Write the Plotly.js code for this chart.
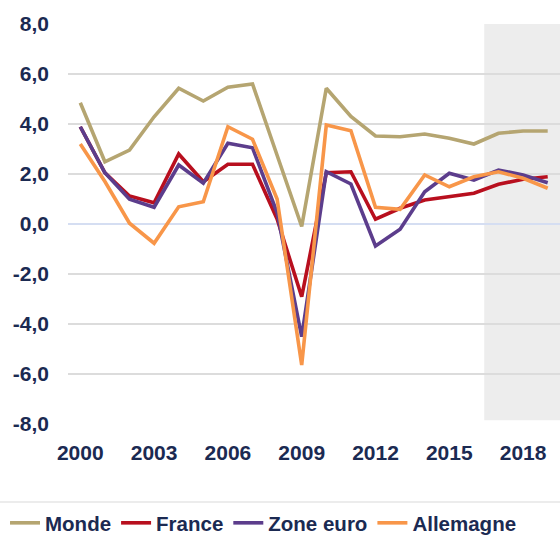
<!DOCTYPE html>
<html>
<head>
<meta charset="utf-8">
<script src="https://cdn.plot.ly/plotly-3.0.1.min.js"></script>
<style>
html,body{margin:0;padding:0;background:#fff;}
#chart{width:560px;height:537px;}
</style>
</head>
<body>
<div id="chart"></div>
<script>
var years = [2000,2001,2002,2003,2004,2005,2006,2007,2008,2009,2010,2011,2012,2013,2014,2015,2016,2017,2018,2019];
var monde     = [4.85,2.49,2.96,4.29,5.43,4.92,5.47,5.6,2.75,-0.1,5.43,4.3,3.52,3.49,3.6,3.43,3.2,3.63,3.72,3.72];
var france    = [3.89,2.05,1.12,0.85,2.8,1.69,2.39,2.39,0.2,-2.91,2.05,2.09,0.19,0.63,0.96,1.09,1.23,1.59,1.79,1.89];
var zoneEuro  = [3.89,2.05,0.99,0.67,2.36,1.63,3.23,3.05,0.45,-4.51,2.09,1.6,-0.88,-0.21,1.29,2.03,1.76,2.16,1.96,1.65];
var allemagne = [3.2,1.7,0.03,-0.77,0.69,0.89,3.89,3.39,1.0,-5.64,3.96,3.73,0.67,0.59,1.96,1.49,1.89,2.09,1.83,1.43];
var seriesNames = ['Monde','France','Zone euro','Allemagne'];
var yTickVals = [-8,-6,-4,-2,0,2,4,6,8];
var yTickText = ['-8,0','-6,0','-4,0','-2,0','0,0','2,0','4,0','6,0','8,0'];
var xTickVals = [2000,2003,2006,2009,2012,2015,2018];
var xTickText = ['2000','2003','2006','2009','2012','2015','2018'];
var forecastStart = 2016.42;

var colors = ['#B5A571','#B80F1E','#5C3D8C','#F89649'];
var data = [monde, france, zoneEuro, allemagne].map(function(v,i){
  return {x: years, y: v, type:'scatter', mode:'lines', name: seriesNames[i],
          line:{color: colors[i], width:3.6}, hoverinfo:'skip'};
});

var tickFont = {family:'Liberation Sans, Arial, sans-serif', size:21, color:'#1B2A52', weight:'bold'};

var layout = {
  width:560, height:537,
  margin:{l:68, r:0, t:24, b:113, autoexpand:false},
  paper_bgcolor:'#fff', plot_bgcolor:'#fff',
  showlegend:true,
  xaxis:{range:[1999.5,2019.5], tickmode:'array', tickvals:xTickVals, ticktext:xTickText, showgrid:false, zeroline:false,
         showline:false, ticks:'', tickfont:tickFont, ticklabelstandoff:14, fixedrange:true},
  yaxis:{range:[-8,8], tickmode:'array', tickvals:yTickVals, ticktext:yTickText, showgrid:true, gridcolor:'#DCDCDC', gridwidth:1.3,
         zeroline:true, zerolinecolor:'#D5DEF2', zerolinewidth:1.3, showline:false, ticks:'',
         tickfont:tickFont, ticklabelstandoff:18, fixedrange:true},
  legend:{orientation:'h', x:-0.128, xanchor:'left', y:-0.2475, yanchor:'middle',
          font:{family:'Liberation Sans, Arial, sans-serif', size:20.5, color:'#1B2A52', weight:'bold'},
          itemwidth:30, tracegroupgap:0, bgcolor:'rgba(0,0,0,0)'},
  shapes:[
    {type:'rect', layer:'below', xref:'x', yref:'y', x0:forecastStart, x1:2019.5, y0:-7.85, y1:8.25,
     fillcolor:'#EDEDED', line:{width:0}},
    {type:'line', xref:'paper', yref:'paper', x0:-68/492, x1:1, y0:-0.195, y1:-0.195,
     line:{color:'#E6E6E6', width:1.5}}
  ]
};
Plotly.newPlot('chart', data, layout, {displayModeBar:false, staticPlot:true});
</script>
</body>
</html>
